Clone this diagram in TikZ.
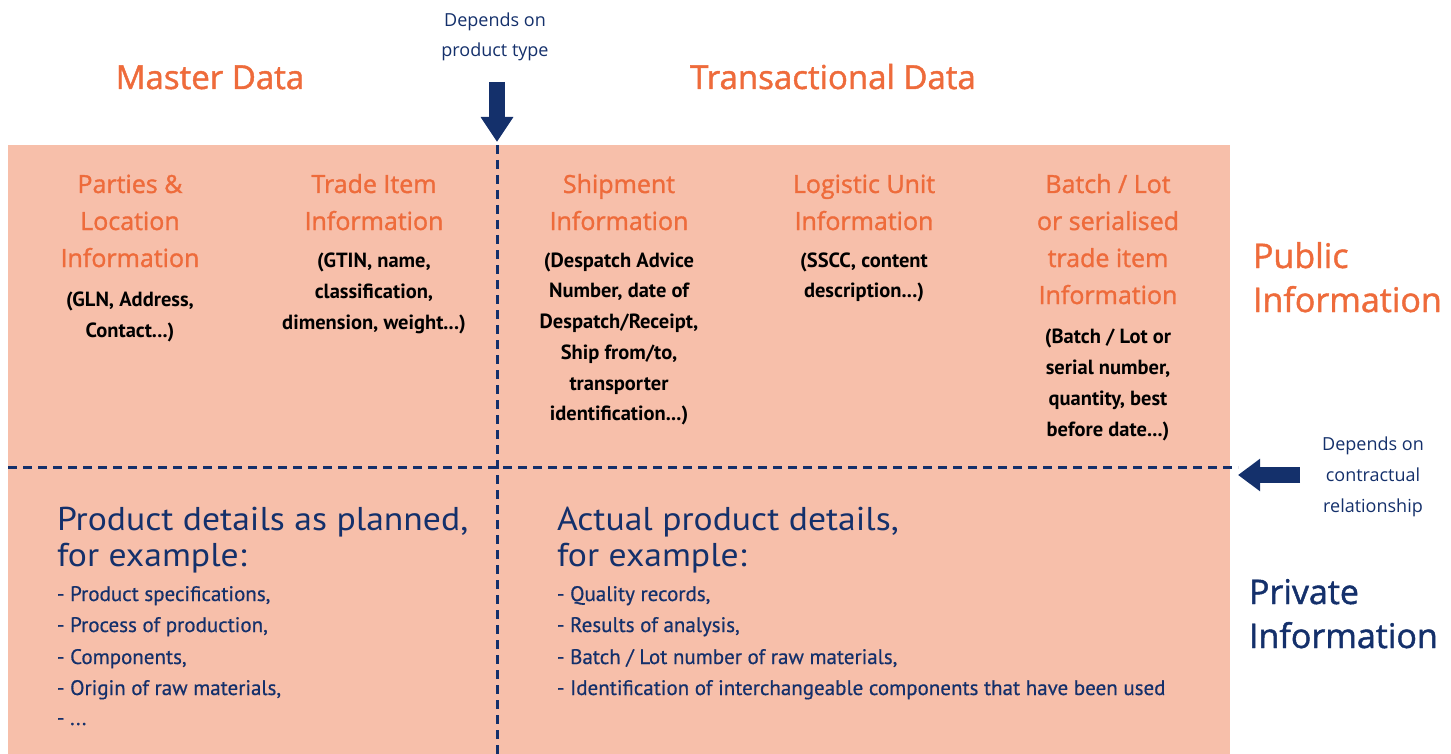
\documentclass[tikz,border=0pt]{standalone}
\usepackage{fontspec}
\setmainfont{PT Sans}
\newfontfamily\osans{Open Sans}
\newfontfamily\osmed[FakeBold=1.3]{Open Sans}
\newfontfamily\ptbig[FakeStretch=1.08]{PT Sans}
\newfontfamily\ptlight[FakeBold=0.5]{PT Sans}
\usetikzlibrary{arrows.meta}
\definecolor{salmon}{HTML}{F7BFAA}
\definecolor{orng}{HTML}{EE6B3B}
\definecolor{navy}{HTML}{14306B}
\tikzset{
  x=1pt, y=-1pt,
  every node/.style={inner sep=0pt, outer sep=0pt},
  title/.style={font=\osmed\fontsize{33}{40}\selectfont, text=orng, anchor=base},
  side/.style={font=\osmed\fontsize{34}{44}\selectfont, anchor=base west},
  hd/.style={font=\osmed\fontsize{25}{37}\selectfont, text=orng, anchor=base},
  bd/.style={font=\bfseries\fontsize{20.5}{31}\selectfont, text=black, anchor=base},
  note/.style={font=\osans\fontsize{18}{30}\selectfont, text=navy, anchor=base},
  big/.style={font=\ptbig\fontsize{33}{31}\selectfont, text=navy, anchor=base west},
  item/.style={font=\ptlight\fontsize{21}{31}\selectfont, text=navy, anchor=base west},
  dashline/.style={draw=navy, line width=3pt, dash pattern=on 9pt off 6pt},
  fatarrow/.style={draw=navy, line width=16pt, -{Triangle[width=31pt,length=25pt]}}
}
\begin{document}
\begin{tikzpicture}
\useasboundingbox (0,0) rectangle (1451,754);
\node[fill=salmon, anchor=north west, minimum width=1222pt, minimum height=609pt] (box) at (8,145) {};
% dashed dividers
\coordinate (vtop) at (497,145);
\coordinate (vbot) at (497,754);
\coordinate (hl) at (8,467);
\coordinate (hr) at (1238,467);
\draw[dashline] (vtop) -- (vbot);
\draw[dashline] (hl) -- (hr);
% arrows
\coordinate (dtail) at (497,82);
\coordinate (dtip) at (497,142);
\draw[fatarrow] (dtail) -- (dtip);
\coordinate (ltail) at (1300,475);
\coordinate (ltip) at (1238,475);
\draw[fatarrow, -{Triangle[width=31pt,length=22pt]}] (ltail) -- (ltip);
% top titles
\node[note] (dep1) at (495,27) {Depends on};
\node[note] (dep2) at (495,57) {product type};
\node[title] (master) at (210,89) {Master Data};
\node[title] (trans) at (833,89) {Transactional Data};
% column 1
\node[hd] (p1) at (130,193) {Parties \&};
\node[hd] (p2) at (130,230) {Location};
\node[hd] (p3) at (130,267) {Information};
\node[bd] (p4) at (130,306) {(GLN, Address,};
\node[bd] (p5) at (130,337) {Contact...)};
% column 2
\node[hd] (t1) at (374,193) {Trade Item};
\node[hd] (t2) at (374,230) {Information};
\node[bd] (t3) at (374,267) {(GTIN, name,};
\node[bd] (t4) at (374,298) {classification,};
\node[bd] (t5) at (374,329) {dimension, weight...)};
% column 3
\node[hd] (s1) at (619,193) {Shipment};
\node[hd] (s2) at (619,230) {Information};
\node[bd] (s3) at (619,267) {(Despatch Advice};
\node[bd] (s4) at (619,297) {Number, date of};
\node[bd] (s5) at (619,328) {Despatch/Receipt,};
\node[bd] (s6) at (619,359) {Ship from/to,};
\node[bd] (s7) at (619,390) {transporter};
\node[bd] (s8) at (619,420) {identification...)};
% column 4
\node[hd] (l1) at (864,193) {Logistic Unit};
\node[hd] (l2) at (864,230) {Information};
\node[bd] (l3) at (864,267) {(SSCC, content};
\node[bd] (l4) at (864,297) {description...)};
% column 5
\node[hd] (b1) at (1108,193) {Batch / Lot};
\node[hd] (b2) at (1108,230) {or serialised};
\node[hd] (b3) at (1108,267) {trade item};
\node[hd] (b4) at (1108,304) {Information};
\node[bd] (b5) at (1108,343) {(Batch / Lot or};
\node[bd] (b6) at (1108,374) {serial number,};
\node[bd] (b7) at (1108,405) {quantity, best};
\node[bd] (b8) at (1108,436) {before date...)};
% right side labels
\node[side, text=orng] (pub1) at (1253,268) {Public};
\node[side, text=orng] (pub2) at (1253,312) {Information};
\node[note] (c1) at (1373,450) {Depends on};
\node[note] (c2) at (1373,481) {contractual};
\node[note] (c3) at (1373,512) {relationship};
\node[side, text=navy] (pri1) at (1249,604) {Private};
\node[side, text=navy] (pri2) at (1249,648) {Information};
% bottom left
\node[big] (pl1) at (57,530) {Product details as planned,};
\node[big] (pl2) at (57,566) {for example:};
\node[item] (pl3) at (57,601) {- Product specifications,};
\node[item] (pl4) at (57,632) {- Process of production,};
\node[item] (pl5) at (57,664) {- Components,};
\node[item] (pl6) at (57,695) {- Origin of raw materials,};
\node[item] (pl7) at (57,725) {- ...};
% bottom right
\node[big] (ac1) at (557,530) {Actual product details,};
\node[big] (ac2) at (557,566) {for example:};
\node[item] (ac3) at (557,601) {- Quality records,};
\node[item] (ac4) at (557,632) {- Results of analysis,};
\node[item] (ac5) at (557,664) {- Batch / Lot number of raw materials,};
\node[item] (ac6) at (557,695) {- Identification of interchangeable components that have been used};
\end{tikzpicture}
\end{document}
